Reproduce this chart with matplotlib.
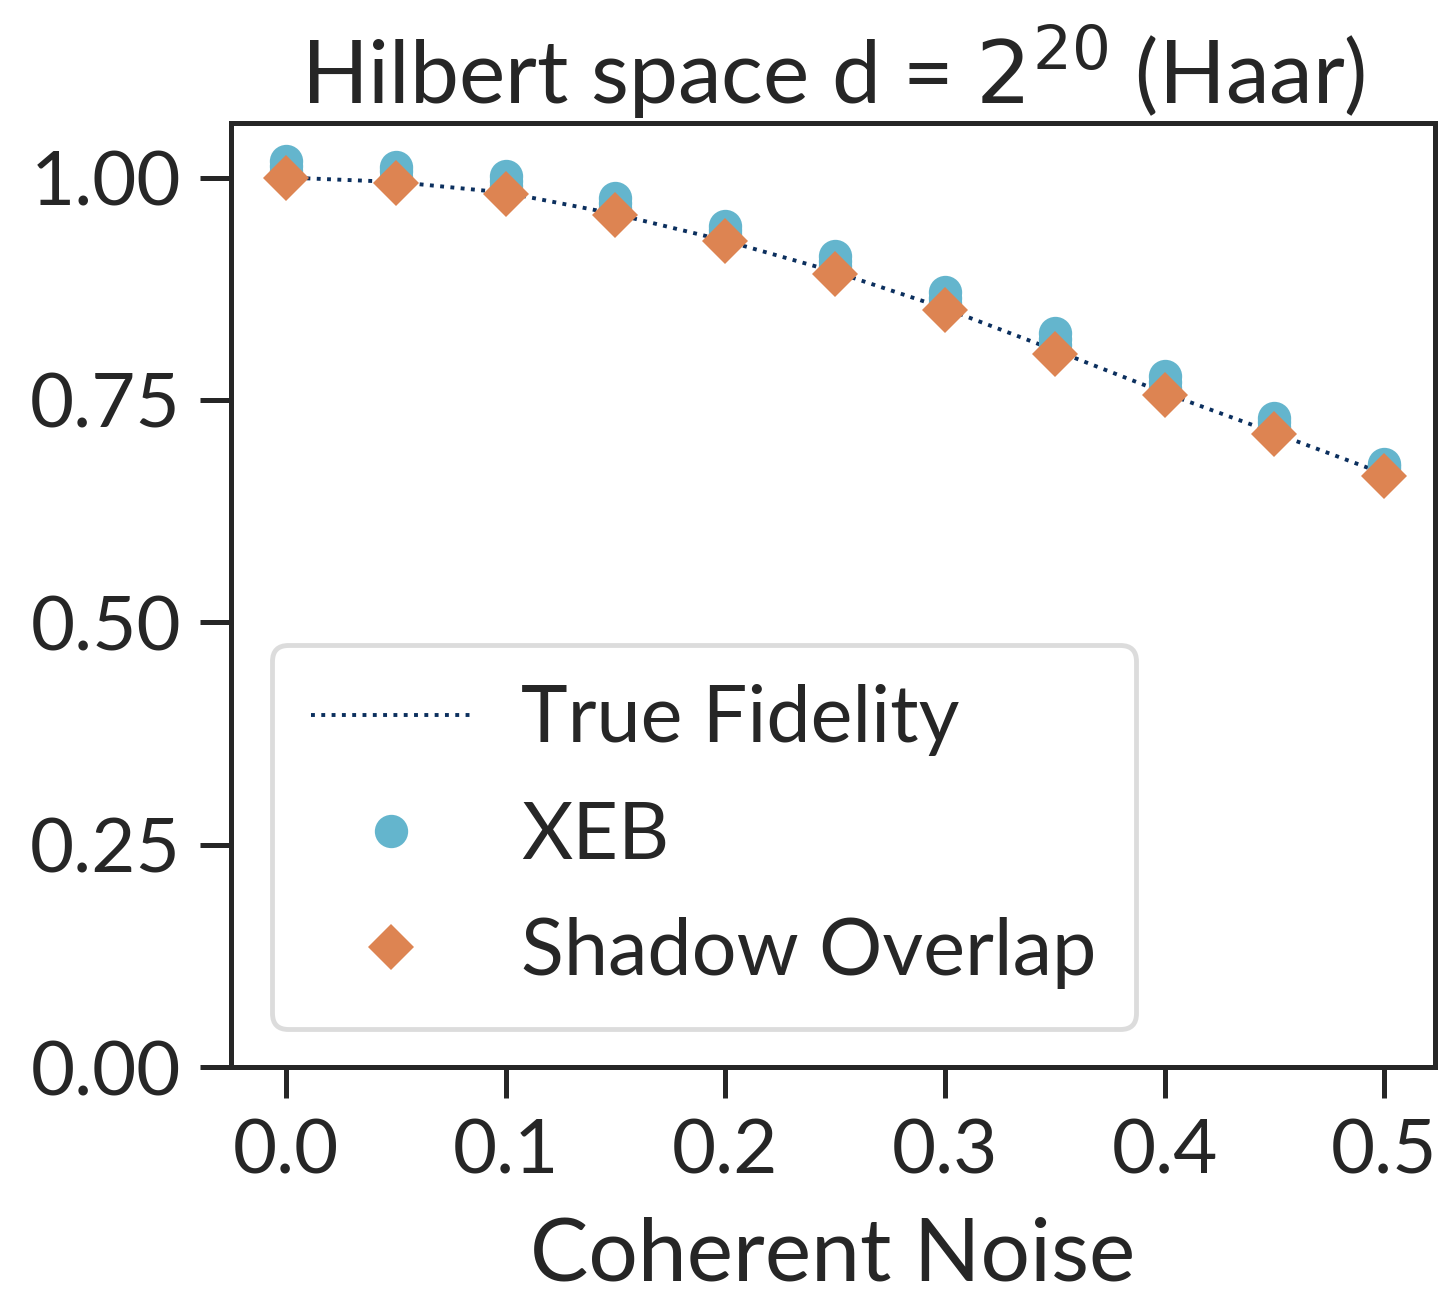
import matplotlib
matplotlib.use("Agg")
import matplotlib.pyplot as plt

plt.rcParams['font.family'] = ['Lato', 'DejaVu Sans']
plt.rcParams['mathtext.fontset'] = 'dejavusans'

noise = [0.0, 0.05, 0.1, 0.15, 0.2, 0.25, 0.3, 0.35, 0.4, 0.45, 0.5]
true_fidelity = [1.0, 0.995, 0.983, 0.959, 0.929, 0.894, 0.853, 0.806, 0.758, 0.713, 0.667]
shadow = [1.0, 0.994, 0.982, 0.958, 0.929, 0.892, 0.851, 0.802, 0.756, 0.712, 0.665]
# several XEB samples per noise level (stacked circles)
xeb_a = [1.007, 1.001, 0.990, 0.966, 0.936, 0.900, 0.859, 0.812, 0.764, 0.720, 0.672]
xeb_b = [1.013, 1.007, 0.996, 0.971, 0.941, 0.906, 0.865, 0.818, 0.770, 0.725, 0.676]
xeb_c = [1.019, 1.012, 1.002, 0.977, 0.946, 0.912, 0.871, 0.825, 0.777, 0.730, 0.678]

title = "Hilbert space d = $2^{20}$ (Haar)"
xlabel = "Coherent Noise"
xticks = [0.0, 0.1, 0.2, 0.3, 0.4, 0.5]
yticks = [0.0, 0.25, 0.5, 0.75, 1.0]

dark = '#262626'
blue = '#64b5cd'
orange = '#dd8452'
navy = '#0b2f5e'

fig = plt.figure(figsize=(14.39, 12.97), dpi=100)
ax = fig.add_axes([0.1605, 0.177, 0.8365, 0.728])

ax.plot(noise, true_fidelity, ':', color=navy, lw=2.8, label='True Fidelity', zorder=2)
for i, xs in enumerate([xeb_c, xeb_b, xeb_a]):
    ax.plot(noise, xs, 'o', color=blue, ms=24, mew=0, zorder=3,
            label='XEB' if i == 0 else None)
ax.plot(noise, shadow, 'D', color=orange, ms=23, mew=0, zorder=4, label='Shadow Overlap')

ax.set_xlim(-0.025, 0.523)
ax.set_ylim(0, 1.061)
ax.set_xticks(xticks)
ax.set_xticklabels([f"{t:.1f}" for t in xticks])
ax.set_yticks(yticks)
ax.set_yticklabels([f"{t:.2f}" for t in yticks])

for s in ax.spines.values():
    s.set_linewidth(3.6)
    s.set_color(dark)
ax.tick_params(axis='both', length=22, width=3.6, color=dark, labelcolor=dark,
               labelsize=55, pad=14)

ax.set_title(title, fontsize=63, color=dark, pad=14)
ax.set_xlabel(xlabel, fontsize=63, color=dark, labelpad=22)

leg = ax.legend(loc='lower left', bbox_to_anchor=(0.034, 0.041), borderaxespad=0,
                fontsize=57, frameon=True, fancybox=True, handlelength=2.0,
                handletextpad=0.65, labelspacing=0.56, borderpad=0.5)
leg.get_frame().set_edgecolor('#d4d4d4')
leg.get_frame().set_linewidth(3.5)
for t in leg.get_texts():
    t.set_color(dark)

fig.savefig('out.png', dpi=100)
